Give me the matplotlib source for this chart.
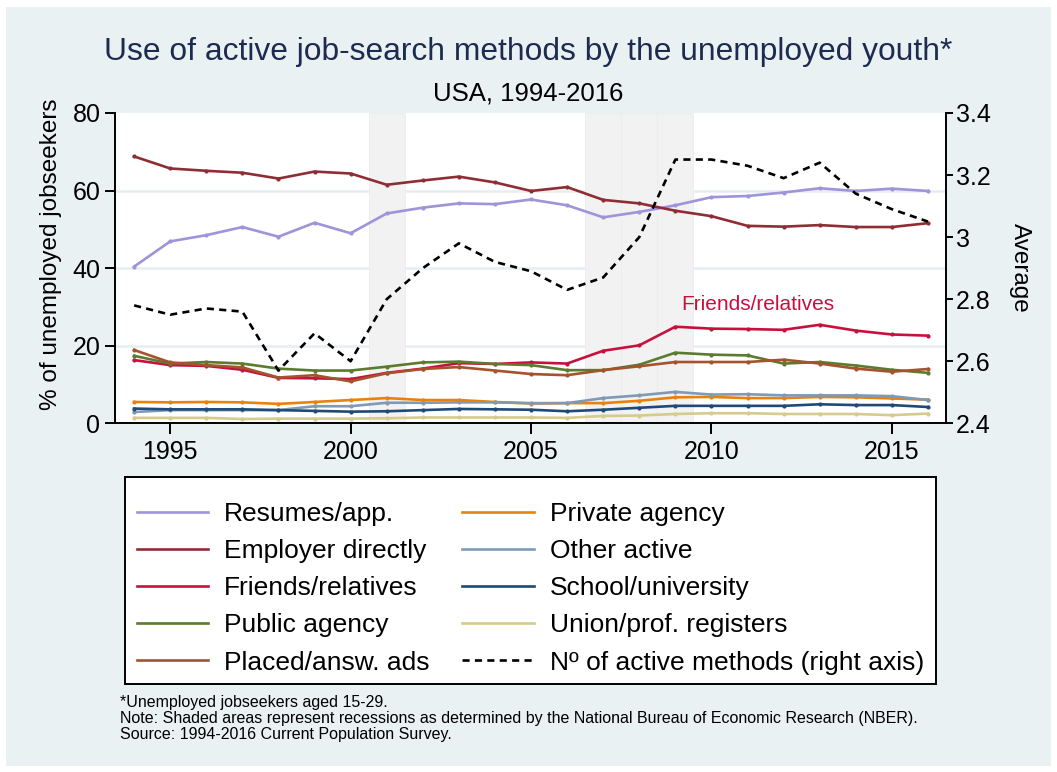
import numpy as np
import matplotlib.pyplot as plt
from matplotlib.patches import Rectangle

plt.rcParams['font.family'] = ['Liberation Sans', 'DejaVu Sans']

years = list(range(1994, 2017))

# % of unemployed jobseekers aged 15-29 using each method
resumes = [40.4, 46.9, 48.5, 50.6, 48.1, 51.7, 49.0, 54.1, 55.6, 56.7, 56.5, 57.7,
           56.2, 53.1, 54.5, 56.2, 58.3, 58.6, 59.5, 60.6, 59.9, 60.5, 59.9]
employer = [68.8, 65.7, 65.1, 64.6, 63.1, 64.9, 64.4, 61.5, 62.6, 63.6, 62.1, 59.9,
            60.9, 57.6, 56.7, 54.8, 53.4, 50.9, 50.7, 51.1, 50.6, 50.6, 51.6]
friends = [16.3, 15.0, 14.8, 13.8, 11.7, 11.6, 11.4, 13.0, 14.1, 15.5, 15.3, 15.7,
           15.4, 18.7, 20.1, 24.9, 24.4, 24.3, 24.1, 25.4, 23.9, 22.9, 22.6]
public_agency = [17.4, 15.4, 15.8, 15.4, 14.1, 13.6, 13.6, 14.6, 15.7, 15.9, 15.3, 15.0,
                 13.7, 13.7, 15.1, 18.2, 17.7, 17.5, 15.4, 15.8, 14.9, 13.8, 13.0]
placed_ads = [18.9, 15.7, 15.0, 14.4, 11.8, 12.4, 10.8, 12.9, 14.0, 14.5, 13.6, 12.7,
              12.4, 13.7, 14.7, 15.8, 15.8, 15.8, 16.4, 15.4, 14.1, 13.3, 14.0]
private_agency = [5.5, 5.4, 5.5, 5.4, 5.0, 5.5, 6.0, 6.5, 6.0, 6.0, 5.5, 5.1,
                  5.2, 5.2, 5.8, 6.7, 6.8, 6.5, 6.5, 6.8, 6.7, 6.4, 6.1]
other_active = [2.9, 3.4, 3.4, 3.4, 3.4, 4.4, 4.4, 5.3, 5.3, 5.4, 5.4, 5.2,
                5.2, 6.5, 7.2, 8.1, 7.4, 7.5, 7.2, 7.2, 7.2, 7.0, 6.0]
school = [3.8, 3.6, 3.6, 3.6, 3.4, 3.2, 3.0, 3.1, 3.4, 3.7, 3.6, 3.5,
          3.1, 3.5, 4.0, 4.5, 4.5, 4.5, 4.5, 4.9, 4.7, 4.7, 4.2]
union = [1.4, 1.4, 1.4, 1.1, 1.2, 1.2, 1.2, 1.3, 1.5, 1.5, 1.5, 1.5,
         1.4, 1.9, 2.0, 2.4, 2.6, 2.6, 2.4, 2.4, 2.4, 2.1, 2.5]

# average number of active methods used (right axis)
n_methods = [2.78, 2.75, 2.77, 2.76, 2.57, 2.69, 2.60, 2.80, 2.90, 2.98, 2.92, 2.89,
             2.83, 2.87, 3.00, 3.25, 3.25, 3.23, 3.19, 3.24, 3.14, 3.09, 3.05]

# NBER recession years
recession_years = [2001, 2007, 2008, 2009]

series = [
    ("Resumes/app.", resumes, "#9d94d9"),
    ("Employer directly", employer, "#8f2d35"),
    ("Friends/relatives", friends, "#c8103f"),
    ("Public agency", public_agency, "#5b7b2f"),
    ("Placed/answ. ads", placed_ads, "#a5532d"),
    ("Private agency", private_agency, "#e8820f"),
    ("Other active", other_active, "#8099b4"),
    ("School/university", school, "#1f4a78"),
    ("Union/prof. registers", union, "#d5cb8c"),
]

W, H = 1057, 772
fig = plt.figure(figsize=(W / 100, H / 100), dpi=100)
fig.patch.set_facecolor("white")
fig.patches.append(Rectangle((6 / W, 6 / H), 1 - 12 / W, 1 - 13 / H,
                             transform=fig.transFigure, facecolor="#eaf1f3",
                             edgecolor="none", zorder=-10))
# legend box
fig.patches.append(Rectangle((125 / W, 1 - 684 / H), (936 - 125) / W, (684 - 477) / H,
                             transform=fig.transFigure, facecolor="white",
                             edgecolor="black", lw=1.4, zorder=-5))

ax = fig.add_axes([115 / W, 1 - 423.3 / H, (946 - 115) / W, (423.3 - 113) / H])
ax.set_facecolor("white")
ax.set_xlim(1993.47, 2016.5)
ax.set_ylim(0, 80)

for yv in [20, 40, 60]:
    ax.axhline(yv, color="#e6eef1", lw=1.8, zorder=1)
for yr in recession_years:
    ax.axvspan(yr - 0.5, yr + 0.5, facecolor="#f2f2f2", edgecolor="#ececec",
               lw=0.6, zorder=2)

handles = []
for name, vals, col in series:
    h, = ax.plot(years, vals, color=col, lw=1.9, marker="o", markersize=2.0,
                 label=name, zorder=4)
    handles.append(h)

ax.text(2009.15, 30.6, "Friends/relatives", color="#c8103f", fontsize=15,
        va="center", ha="left", zorder=5)

ax2 = ax.twinx()
ax2.set_ylim(2.4, 3.4)
dash, = ax2.plot(years, n_methods, color="black", lw=1.9, ls=(0, (2.7, 2.0)),
                 label="Nº of active methods (right axis)", zorder=5)
handles.append(dash)

for a in (ax, ax2):
    a.spines["top"].set_visible(False)
    for s in ["left", "right", "bottom"]:
        a.spines[s].set_linewidth(1.4)
ax.spines["right"].set_visible(False)
ax2.spines["left"].set_visible(False)
ax2.spines["bottom"].set_visible(False)

ax.set_xticks([1995, 2000, 2005, 2010, 2015])
ax.set_yticks([0, 20, 40, 60, 80])
ax.tick_params(axis="x", length=8, width=1.4, labelsize=18, pad=4)
ax.tick_params(axis="y", length=7.5, width=1.4, labelsize=18, pad=3)
ax2.set_yticks([2.4, 2.6, 2.8, 3.0, 3.2, 3.4])
ax2.set_yticklabels(["2.4", "2.6", "2.8", "3", "3.2", "3.4"])
ax2.tick_params(axis="y", length=5, width=1.4, labelsize=18, pad=2)

ax.set_ylabel("% of unemployed jobseekers", fontsize=17.5)
ax.yaxis.set_label_coords(-0.064, 0.546)
ax2.set_ylabel("Average", fontsize=17.5, rotation=270, va="center")
ax2.yaxis.set_label_coords(1.089, 0.5)

fig.text(0.5, 1 - 52 / H, "Use of active job-search methods by the unemployed youth*",
         ha="center", va="center", fontsize=22.9, color="#1c2b4f")
fig.text(0.5, 1 - 93 / H, "USA, 1994-2016", ha="center", va="center",
         fontsize=18.5, color="black")

leg = fig.legend(handles=handles, ncol=2, loc="upper left",
                 bbox_to_anchor=(125 / W, 1 - 490 / H), fontsize=19,
                 frameon=False, handlelength=2.7, handletextpad=0.6,
                 columnspacing=1.25, labelspacing=0.5, borderpad=0.45,
                 borderaxespad=0)
for line in leg.get_lines():
    line.set_marker("")

notes = ["*Unemployed jobseekers aged 15-29.",
         "Note: Shaded areas represent recessions as determined by the National Bureau of Economic Research (NBER).",
         "Source: 1994-2016 Current Population Survey."]
for i, t in enumerate(notes):
    fig.text(120 / W, 1 - (703 + 16 * i) / H, t, ha="left", va="center",
             fontsize=11.5)

fig.savefig("out.png", dpi=100, facecolor=fig.get_facecolor())
